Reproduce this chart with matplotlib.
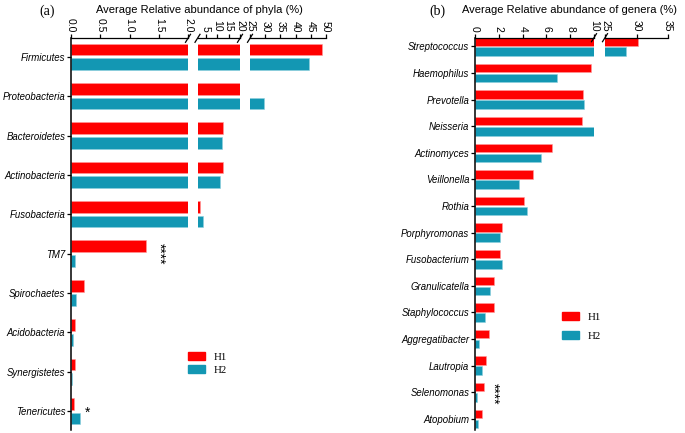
import matplotlib
matplotlib.use("Agg")
import matplotlib.pyplot as plt
from matplotlib.lines import Line2D
from matplotlib.patches import Patch
import numpy as np

# ---- data -------------------------------------------------------------
phyla = ["Firmicutes", "Proteobacteria", "Bacteroidetes", "Actinobacteria",
         "Fusobacteria", "TM7", "Spirochaetes", "Acidobacteria",
         "Synergistetes", "Tenericutes"]
phyla_h1 = [48.8, 21.0, 12.7, 12.4, 2.7, 1.29, 0.23, 0.074, 0.063, 0.05]
phyla_h2 = [44.5, 29.6, 12.3, 11.3, 3.7, 0.063, 0.09, 0.03, 0.02, 0.15]

genera = ["Streptococcus", "Haemophilus", "Prevotella", "Neisseria",
          "Actinomyces", "Veillonella", "Rothia", "Porphyromonas",
          "Fusobacterium", "Granulicatella", "Staphylococcus",
          "Aggregatibacter", "Lautropia", "Selenomonas", "Atopobium"]
genera_h1 = [30.2, 9.72, 9.1, 8.97, 6.5, 4.9, 4.1, 2.3, 2.1, 1.57, 1.57,
             1.2, 0.9, 0.78, 0.61]
genera_h2 = [28.4, 6.9, 9.2, 10.3, 5.55, 3.7, 4.4, 2.1, 2.3, 1.24, 0.82,
             0.36, 0.56, 0.14, 0.23]

RED = "#FF0000"
TEAL = "#1397B3"
W, H = 685, 433

fig = plt.figure(figsize=(W / 100, H / 100), dpi=100)


def px_axes(x0, x1, y0, y1):
    return fig.add_axes([x0 / W, 1 - y1 / H, (x1 - x0) / W, (y1 - y0) / H])


def break_mark(x, y):
    fig.add_artist(Line2D([(x - 2.5) / W, (x + 2.5) / W],
                          [1 - (y + 4) / H, 1 - (y - 4) / H],
                          transform=fig.transFigure, color="black", lw=0.9))


def draw_panel(names, h1, h2, segments, ytop, ybot, ylim, off, height):
    pos = np.arange(len(names))
    axes = []
    for i, (x0, x1, xlim, ticks, fmt) in enumerate(segments):
        ax = px_axes(x0, x1, ytop, ybot)
        ax.barh(pos - off, h1, height=height, color=RED,
                edgecolor="#ff9a9a", linewidth=0.4)
        ax.barh(pos + off, h2, height=height, color=TEAL,
                edgecolor="#8fd0de", linewidth=0.4)
        ax.set_xlim(*xlim)
        ax.set_ylim(*ylim)
        ax.xaxis.tick_top()
        ax.set_xticks(ticks)
        ax.set_xticklabels([fmt.format(t) for t in ticks])
        ax.tick_params(axis="x", labelrotation=-90, labelsize=7.5,
                       length=3, width=0.9, pad=1.5)
        for s in ("bottom", "right"):
            ax.spines[s].set_visible(False)
        ax.spines["top"].set_linewidth(0.9)
        ax.spines["left"].set_linewidth(1.1)
        if i == 0:
            ax.set_yticks(pos)
            ax.set_yticklabels(names, fontstyle="italic", fontsize=6.9)
            ax.tick_params(axis="y", length=3, width=0.9, pad=1)
        else:
            ax.spines["left"].set_visible(False)
            ax.set_yticks([])
        ax.patch.set_alpha(0)
        axes.append(ax)
    # break marks between segments
    for (a, b) in zip(segments[:-1], segments[1:]):
        break_mark(a[1], ytop)
        break_mark(b[0], ytop)
    return axes


plt.rcParams["font.family"] = ["Liberation Sans", "DejaVu Sans"]

# ---- panel (a) --------------------------------------------------------
axa = draw_panel(
    phyla, phyla_h1, phyla_h2,
    [(71, 188, (0, 2), [0, 0.5, 1.0, 1.5, 2.0], "{:.1f}"),
     (197.5, 240, (1.5, 20), [5, 10, 15, 20], "{:g}"),
     (250, 326, (25, 50), [25, 30, 35, 40, 45, 50], "{:g}")],
    38.3, 430, (9.48, -0.47), 0.186, 0.30)

axa[0].text(1.51, 5, "****", rotation=-90, ha="center", va="center",
            fontsize=10)
axa[0].text(0.28, 9.05, "*", ha="center", va="center", fontsize=10)

# ---- panel (b) --------------------------------------------------------
axb = draw_panel(
    genera, genera_h1, genera_h2,
    [(475, 594, (0, 10), [0, 2, 4, 6, 8, 10], "{:g}"),
     (605, 668, (25, 35), [25, 30, 35], "{:g}")],
    37.7, 430, (14.42, -0.33), 0.19, 0.32)

axb[0].text(1.55, 13.05, "****", rotation=-90, ha="center", va="center",
            fontsize=10)

# ---- titles -----------------------------------------------------------
fig.text(199 / W, 1 - 10 / H, "Average Relative abundance of phyla (%)",
         ha="center", va="center", fontsize=8)
fig.text(47 / W, 1 - 11 / H, "(a)", ha="center", va="center", fontsize=10,
         family="Liberation Serif")
fig.text(570 / W, 1 - 10 / H, "Average Relative abundance of genera (%)",
         ha="center", va="center", fontsize=8)
fig.text(437 / W, 1 - 11 / H, "(b)", ha="center", va="center", fontsize=10,
         family="Liberation Serif")

# ---- legends ----------------------------------------------------------
handles = [Patch(color=RED), Patch(color=TEAL)]
fig.legend(handles, ["H1", "H2"], loc="upper left",
           bbox_to_anchor=(188 / W, 1 - 352 / H), frameon=False,
           prop={"family": "Liberation Serif", "size": 7.8},
           handlelength=1.6, handleheight=0.75, handletextpad=0.8,
           labelspacing=0.3, borderpad=0, borderaxespad=0)
fig.legend(handles, ["H1", "H2"], loc="upper left",
           bbox_to_anchor=(562 / W, 1 - 312 / H), frameon=False,
           prop={"family": "Liberation Serif", "size": 7.8},
           handlelength=1.6, handleheight=0.75, handletextpad=0.8,
           labelspacing=0.85, borderpad=0, borderaxespad=0)

fig.savefig("out.png", dpi=100)
